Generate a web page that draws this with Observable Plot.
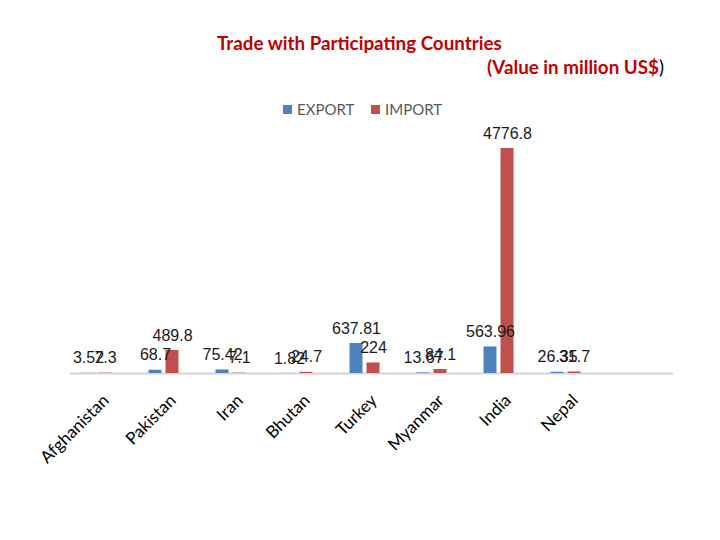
<!DOCTYPE html>
<html><head><meta charset="utf-8">
<script src="https://cdn.jsdelivr.net/npm/d3@7"></script>
<script src="https://cdn.jsdelivr.net/npm/@observablehq/plot@0.6"></script>
<style>
body{margin:0;background:#fff;}
#wrap{position:relative;width:720px;height:540px;overflow:hidden;background:#fff;}
#wrap svg{position:absolute;left:0;top:0;}
.t{position:absolute;white-space:nowrap;line-height:1;}
#title{left:217px;top:31px;font:bold 18.8px Lato, sans-serif;color:#c00000;}
#sub{left:487px;top:55px;font:bold 18.8px Lato, sans-serif;color:#c00000;}
.sw{position:absolute;width:9px;height:9px;}
.lg{position:absolute;font:15px Lato, sans-serif;color:#595959;line-height:1;}
</style></head>
<body><div id="wrap">
<div class="t" id="title">Trade with Participating Countries</div>
<div class="t" id="sub">(Value in million US$<span style="color:#000;font-weight:normal">)</span></div>
<div id="legend"></div>
</div>
<script>
const countries = ["Afghanistan", "Pakistan", "Iran", "Bhutan", "Turkey", "Myanmar", "India", "Nepal"];
const exportValues = [3.52, 68.7, 75.42, 1.82, 637.81, 13.67, 563.96, 26.35];
const importValues = [7.3, 489.8, 7.1, 24.7, 224, 84.1, 4776.8, 31.7];
const seriesNames = ["EXPORT", "IMPORT"];
const seriesColors = ["#4f81bd", "#c0504d"];

const exp = countries.map((c, i) => ({country: c, series: seriesNames[0], value: exportValues[i]}));
const imp = countries.map((c, i) => ({country: c, series: seriesNames[1], value: importValues[i]}));

const plot = Plot.plot({
  width: 720, height: 540,
  marginLeft: 70, marginRight: 47, marginTop: 0, marginBottom: 167,
  x: {domain: countries, range: [62.5, 598.5], padding: 0, axis: null},
  y: {domain: [0, 5000], range: [373, 137.5], axis: null},
  color: {domain: seriesNames, range: seriesColors},
  style: {fontFamily: "Liberation Sans, sans-serif", background: "transparent"},
  marks: [
    Plot.ruleY([0], {stroke: "#d4d4d4", strokeWidth: 2}),
    Plot.barY(exp, {x: "country", y: "value", fill: "series", dx: -8.5, insetLeft: 27, insetRight: 27}),
    Plot.barY(imp, {x: "country", y: "value", fill: "series", dx: 8.5, insetLeft: 27, insetRight: 27}),
    Plot.text(exp, {x: "country", y: "value", text: d => String(d.value), dx: -8.5, dy: -15, fontSize: 16, fill: "#1a1a1a"}),
    Plot.text(imp, {x: "country", y: "value", text: d => String(d.value), dx: 8.5, dy: -15, fontSize: 16, fill: "#1a1a1a"}),
    Plot.text(countries, {x: d => d, frameAnchor: "bottom", dx: 13, dy: 28, rotate: -45, textAnchor: "end", lineAnchor: "bottom", fontSize: 17, fontFamily: "Lato, sans-serif", fill: "#000"})
  ]
});
const wrap = document.getElementById("wrap");
wrap.insertBefore(plot, wrap.firstChild);

const legend = document.getElementById("legend");
const lx = [[283, 297], [371, 385]];
seriesNames.forEach((s, i) => {
  const sw = document.createElement("div");
  sw.className = "sw";
  sw.style.left = lx[i][0] + "px"; sw.style.top = "105px"; sw.style.background = seriesColors[i];
  legend.appendChild(sw);
  const t = document.createElement("div");
  t.className = "lg";
  t.style.left = lx[i][1] + "px"; t.style.top = "102px";
  t.textContent = s;
  legend.appendChild(t);
});
</script>
</body></html>
